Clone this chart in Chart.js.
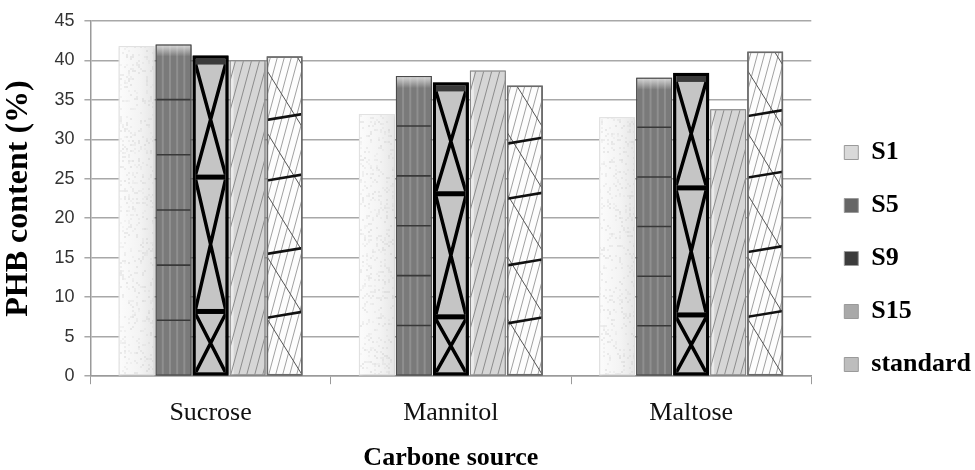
<!DOCTYPE html>
<html>
<head>
<meta charset="utf-8">
<script src="https://cdn.jsdelivr.net/npm/chart.js@4.4.1/dist/chart.umd.min.js"></script>
<style>
  html, body { margin: 0; padding: 0; background: #fff; }
  #wrap { width: 975px; height: 470px; position: relative; }
</style>
</head>
<body>
<div id="wrap"><canvas id="c" width="975" height="470"></canvas></div>
<script>
// ---- data ----
const categories = ['Sucrose', 'Mannitol', 'Maltose'];
const seriesNames = ['S1', 'S5', 'S9', 'S15', 'standard'];
const S1 = [41.8, 33.2, 32.8];
const S5 = [42.0, 38.0, 37.8];
const S9 = [40.6, 37.2, 38.4];
const S15 = [40.0, 38.7, 33.8];
const standard = [40.5, 36.8, 41.1];
const yMin = 0, yMax = 45, yStep = 5;
const xTitle = 'Carbone source';
const yTitle = 'PHB content (%)';

// ---- styles ----
const barBg = ['#f5f5f5', '#7a7a7a', '#c5c5c5', '#d6d6d6', '#fdfdfd'];
const barBorder = ['#e2e2e2', '#4a4a4a', '#000000', '#8a8a8a', '#6a6a6a'];
const barBorderW = [1, 1, 3, 1, 1.5];
const legendFill = ['#d9d9d9', '#666666', '#3c3c3c', '#a9a9a9', '#bdbdbd'];

function hash(x, y) {
  const s = Math.sin(x * 12.9898 + y * 78.233) * 43758.5453;
  return s - Math.floor(s);
}

function clipRect(c, l, t, w, h) {
  c.beginPath(); c.rect(l, t, w, h); c.clip();
}

const drawers = [
  // S1 speckled light
  function (c, l, t, w, h) {
    c.save(); clipRect(c, l + 1, t + 1, w - 2, h - 2);
    const g = c.createLinearGradient(l, 0, l + w, 0);
    g.addColorStop(0, '#fcfcfc'); g.addColorStop(0.6, '#f3f3f3'); g.addColorStop(1, '#e6e6e6');
    c.fillStyle = g; c.fillRect(l, t, w, h);
    for (let yy = Math.floor(t); yy < t + h; yy += 2) {
      for (let xx = Math.floor(l); xx < l + w; xx += 2) {
        const n = hash(xx, yy);
        if (n < 0.18) { c.fillStyle = 'rgba(170,170,170,' + (0.08 + n * 0.8) + ')'; c.fillRect(xx, yy, 2, 2); }
      }
    }
    c.restore();
  },
  // S5 dark grey with vertical stripes and horizontal lines
  function (c, l, t, w, h) {
    c.save(); clipRect(c, l + 1, t + 1, w - 2, h - 2);
    c.strokeStyle = 'rgba(255,255,255,0.16)'; c.lineWidth = 2;
    for (let k = 1; k <= 4; k++) {
      const x = l + w * k / 5;
      c.beginPath(); c.moveTo(x, t); c.lineTo(x, t + h); c.stroke();
    }
    const g = c.createLinearGradient(0, t, 0, t + 12);
    g.addColorStop(0, 'rgba(230,230,230,0.9)'); g.addColorStop(1, 'rgba(230,230,230,0)');
    c.fillStyle = g; c.fillRect(l, t, w, 12);
    c.strokeStyle = '#383838'; c.lineWidth = 1.6;
    for (let k = 1; k <= 5; k++) {
      const y = t + h - h * k / 6;
      c.beginPath(); c.moveTo(l, y); c.lineTo(l + w, y); c.stroke();
    }
    c.restore();
  },
  // S9 grey with black X cells
  function (c, l, t, w, h) {
    c.save();
    const ins = 3;
    const L = l + ins, R = l + w - ins, T = t + ins, B = t + h - ins;
    clipRect(c, L, T, R - L, B - T);
    c.fillStyle = '#3a3a3a'; c.fillRect(L, T, R - L, 6);
    const y1 = t + h - h * 0.2, y2 = t + h - h * 0.62;
    c.fillStyle = '#000';
    c.fillRect(L, y1 - 2.5, R - L, 5);
    c.fillRect(L, y2 - 2.5, R - L, 5);
    const cells = [[T + 6, y2 - 2.5], [y2 + 2.5, y1 - 2.5], [y1 + 2.5, B]];
    c.strokeStyle = '#000'; c.lineWidth = 3.5;
    cells.forEach(([a, b]) => {
      c.beginPath(); c.moveTo(L, a); c.lineTo(R, b); c.moveTo(R, a); c.lineTo(L, b); c.stroke();
    });
    c.restore();
  },
  // S15 light grey with steep diagonal lines
  function (c, l, t, w, h) {
    c.save(); clipRect(c, l + 1, t + 1, w - 2, h - 2);
    c.fillStyle = 'rgba(255,255,255,0.5)'; c.fillRect(l, t, 4, h);
    c.strokeStyle = '#8c8c8c'; c.lineWidth = 1;
    const slope = 0.27;
    for (let x0 = l - h * slope - 10; x0 < l + w + 10; x0 += 8) {
      c.beginPath(); c.moveTo(x0, t + h); c.lineTo(x0 + h * slope, t); c.stroke();
    }
    c.restore();
  },
  // standard: white, thin diagonals, cross diagonals, thick slanted lines
  function (c, l, t, w, h) {
    c.save(); clipRect(c, l + 1, t + 1, w - 2, h - 2);
    c.strokeStyle = '#a0a0a0'; c.lineWidth = 1;
    const slope = 0.27;
    for (let x0 = l - h * slope - 10; x0 < l + w + 10; x0 += 7) {
      c.beginPath(); c.moveTo(x0, t + h); c.lineTo(x0 + h * slope, t); c.stroke();
    }
    c.strokeStyle = '#555'; c.lineWidth = 1;
    const dy = w * 1.6;
    for (let y0 = t + h - dy; y0 > t - dy - 70; y0 -= 62) {
      c.beginPath(); c.moveTo(l, y0); c.lineTo(l + w, y0 + dy); c.stroke();
    }
    c.strokeStyle = '#111'; c.lineWidth = 2.6;
    [0.19, 0.39, 0.62, 0.81].forEach(f => {
      const y = t + h - h * f;
      c.beginPath(); c.moveTo(l, y + 3); c.lineTo(l + w, y - 3); c.stroke();
    });
    c.restore();
  }
];

const decoPlugin = {
  id: 'deco',
  afterLayout(chart) {
    // nudge the legend a little to the right, as in the reference
    const lg = chart.legend;
    if (lg) { lg.left += 6; lg.right += 6; }
  },
  beforeDatasetsDraw(chart) {
    const c = chart.ctx;
    c.save();
    c.shadowColor = 'rgba(0,0,0,0.35)'; c.shadowBlur = 4; c.shadowOffsetX = 2; c.shadowOffsetY = 2;
  },
  afterDatasetsDraw(chart) {
    const c = chart.ctx;
    c.restore();
    chart.data.datasets.forEach((ds, di) => {
      const meta = chart.getDatasetMeta(di);
      meta.data.forEach(el => {
        const p = el.getProps(['x', 'y', 'base', 'width'], true);
        const l = p.x - p.width / 2;
        const t = Math.min(p.y, p.base);
        const h = Math.abs(p.base - p.y);
        drawers[di](c, l, t, p.width, h);
        c.save();
        c.strokeStyle = barBorder[di]; c.lineWidth = barBorderW[di];
        const bw = barBorderW[di];
        c.strokeRect(l + bw / 2, t + bw / 2, p.width - bw, h - bw);
        c.restore();
      });
    });
  }
};

const seriesData = [S1, S5, S9, S15, standard];
const datasets = seriesNames.map((name, i) => ({
  label: name,
  data: seriesData[i],
  backgroundColor: barBg[i],
  borderColor: barBorder[i],
  borderWidth: barBorderW[i],
  borderSkipped: false,
  categoryPercentage: 0.77,
  barPercentage: 0.97
}));

new Chart(document.getElementById('c'), {
  type: 'bar',
  data: { labels: categories, datasets },
  plugins: [decoPlugin],
  options: {
    responsive: false,
    animation: false,
    devicePixelRatio: 1,
    layout: { padding: { top: 16, left: 0, right: 0, bottom: -7 } },
    plugins: {
      tooltip: { enabled: false },
      legend: {
        position: 'right',
        align: 'center',
        maxWidth: 165,
        title: { display: true, text: ' ', font: { size: 10 }, padding: { top: 12, bottom: 0 } },
        labels: {
          boxWidth: 14,
          boxHeight: 14,
          padding: 27,
          color: '#000',
          font: { family: "'Liberation Serif', 'Times New Roman', serif", size: 26, weight: 'bold' },
          generateLabels(chart) {
            const items = Chart.defaults.plugins.legend.labels.generateLabels(chart);
            items.forEach((it, i) => {
              it.fillStyle = legendFill[i];
              it.strokeStyle = '#9a9a9a';
              it.lineWidth = 1;
            });
            return items;
          }
        }
      }
    },
    scales: {
      x: {
        grid: { display: true, drawOnChartArea: false, drawTicks: true, tickLength: 8, color: '#9a9a9a', offset: true },
        border: { display: true, color: '#9a9a9a', width: 1.5 },
        ticks: {
          color: '#111', padding: 15,
          font: { family: "'Liberation Serif', 'Times New Roman', serif", size: 26, lineHeight: 1.1 }
        },
        title: {
          display: true, text: xTitle, color: '#000', padding: { top: 0, bottom: 3 },
          font: { family: "'Liberation Serif', 'Times New Roman', serif", size: 26, weight: 'bold' }
        }
      },
      y: {
        min: yMin, max: yMax,
        ticks: {
          stepSize: yStep, color: '#333', padding: 10,
          font: { family: "'Liberation Sans', Arial, sans-serif", size: 18 }
        },
        grid: { color: '#a8a8a8', lineWidth: 1.5, tickLength: 6 },
        border: { display: true, color: '#9a9a9a', width: 1.5 },
        title: {
          display: true, text: yTitle, color: '#000', padding: { top: 0, bottom: 6 },
          font: { family: "'Liberation Serif', 'Times New Roman', serif", size: 32, weight: 'bold' }
        }
      }
    }
  }
});
</script>
</body>
</html>
